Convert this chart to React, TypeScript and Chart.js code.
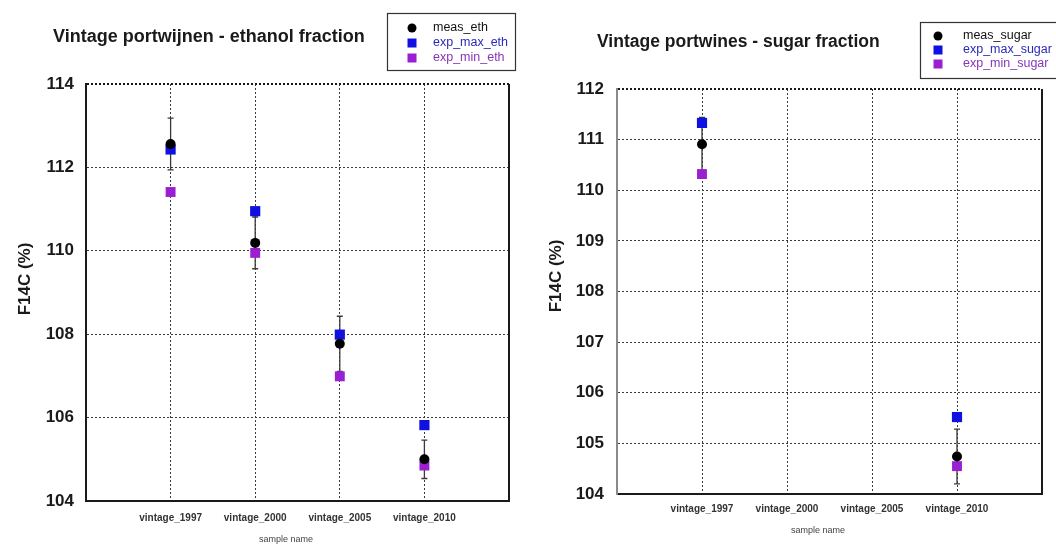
import React, { useEffect, useRef } from "react";
import { Chart, registerables } from "chart.js";

Chart.register(...registerables);

const FONT = "'Liberation Sans', Arial, Helvetica, sans-serif";

// ---------- data ----------
const categories = ["vintage_1997", "vintage_2000", "vintage_2005", "vintage_2010"];
const yAxisTitle = "F14C (%)";
const xAxisTitle = "sample name";

const ethTitle = "Vintage portwijnen - ethanol fraction";
const ethLabels = ["meas_eth", "exp_max_eth", "exp_min_eth"];
const ethMeas = [112.56, 110.19, 107.77, 105.0];
const ethMeasErr = [0.62, 0.62, 0.66, 0.46];
const ethExpMax = [112.43, 110.95, 107.99, 105.82];
const ethExpMin = [111.41, 109.95, 106.99, 104.85];
const ethYTicks = [104, 106, 108, 110, 112, 114];

const sugarTitle = "Vintage portwines - sugar fraction";
const sugarLabels = ["meas_sugar", "exp_max_sugar", "exp_min_sugar"];
const sugarMeas = [110.91, null, null, 104.74];
const sugarMeasErr = [0.53, null, null, 0.54];
const sugarExpMax = [111.33, null, null, 105.52];
const sugarExpMin = [110.32, null, null, 104.55];
const sugarYTicks = [104, 105, 106, 107, 108, 109, 110, 111, 112];

const seriesColors = ["#000000", "#1010e0", "#9b1fd2"];
const legendTextColors = ["#111111", "#2a2ab8", "#8a35b8"];

// ---------- layout (positions / sizes only) ----------
type Layout = {
  width: number;
  height: number;
  area: { left: number; right: number; top: number; bottom: number };
  title: { x: number; y: number; size: number };
  legend: { x: number; y: number; w: number; h: number; rows: number[]; markerX: number; textX: number };
  yTitle: { x: number; y: number };
  xTitle: { x: number; y: number };
  xTickPad: number;
  yTickPad: number;
  yBorderColor: string;
};

const leftLayout: Layout = {
  width: 528,
  height: 544,
  area: { left: 86, right: 509, top: 84, bottom: 501 },
  title: { x: 53, y: 37, size: 18 },
  legend: { x: 387, y: 13, w: 128, h: 57, rows: [28, 43, 58], markerX: 412, textX: 433 },
  yTitle: { x: 25, y: 279 },
  xTitle: { x: 286, y: 540 },
  xTickPad: 11,
  yTickPad: 12,
  yBorderColor: "#1a1a1a",
};

const rightLayout: Layout = {
  width: 528,
  height: 544,
  area: { left: 89, right: 514, top: 89, bottom: 494 },
  title: { x: 69, y: 42, size: 17.5 },
  legend: { x: 392, y: 22, w: 160, h: 56, rows: [36, 50, 64], markerX: 410, textX: 435 },
  yTitle: { x: 28, y: 276 },
  xTitle: { x: 290, y: 531 },
  xTickPad: 9,
  yTickPad: 13,
  yBorderColor: "#8a8a8a",
};

type Spec = {
  title: string;
  labels: string[];
  meas: (number | null)[];
  measErr: (number | null)[];
  expMax: (number | null)[];
  expMin: (number | null)[];
  yTicks: number[];
  layout: Layout;
};

const errorBarPlugin = {
  id: "errorBars",
  beforeDatasetsDraw(chart: any, _args: any, opts: any) {
    const { ctx, scales } = chart;
    const x = scales.x;
    const y = scales.y;
    const vals: (number | null)[] = opts.values || [];
    const errs: (number | null)[] = opts.errors || [];
    ctx.save();
    ctx.strokeStyle = "#3a3a3a";
    ctx.lineWidth = 1.3;
    ctx.setLineDash([]);
    vals.forEach((v, i) => {
      const e = errs[i];
      if (v == null || e == null) return;
      const px = x.getPixelForValue(i + 1);
      const top = y.getPixelForValue(v + e);
      const bot = y.getPixelForValue(v - e);
      ctx.beginPath();
      ctx.moveTo(px, top);
      ctx.lineTo(px, bot);
      ctx.moveTo(px - 3, top);
      ctx.lineTo(px + 3, top);
      ctx.moveTo(px - 3, bot);
      ctx.lineTo(px + 3, bot);
      ctx.stroke();
    });
    ctx.restore();
  },
};

const decorPlugin = {
  id: "decor",
  afterDraw(chart: any, _args: any, opts: any) {
    const { ctx, chartArea } = chart;
    const L: Layout = opts.layout;
    ctx.save();
    ctx.setLineDash([]);
    // right frame line
    ctx.strokeStyle = "#1a1a1a";
    ctx.lineWidth = 2;
    ctx.beginPath();
    ctx.moveTo(chartArea.right, chartArea.top);
    ctx.lineTo(chartArea.right, chartArea.bottom);
    ctx.stroke();

    // title
    ctx.fillStyle = "#1a1a1a";
    ctx.font = `bold ${L.title.size}px ${FONT}`;
    ctx.textAlign = "left";
    ctx.textBaseline = "middle";
    ctx.fillText(opts.title, L.title.x, L.title.y);

    // legend box
    const lg = L.legend;
    ctx.fillStyle = "#ffffff";
    ctx.fillRect(lg.x, lg.y, lg.w, lg.h);
    ctx.strokeStyle = "#333333";
    ctx.lineWidth = 1.2;
    ctx.strokeRect(lg.x + 0.5, lg.y + 0.5, lg.w, lg.h);
    const dsets = chart.data.datasets;
    dsets.forEach((ds: any, i: number) => {
      const ry = lg.rows[i];
      ctx.fillStyle = ds.backgroundColor;
      if (ds.pointStyle === "circle") {
        ctx.beginPath();
        ctx.arc(lg.markerX, ry, 4.5, 0, Math.PI * 2);
        ctx.fill();
      } else {
        ctx.fillRect(lg.markerX - 4.5, ry - 4.5, 9, 9);
      }
      ctx.fillStyle = legendTextColors[i];
      ctx.font = `12.5px ${FONT}`;
      ctx.textAlign = "left";
      ctx.textBaseline = "middle";
      ctx.fillText(ds.label, lg.textX, ry);
    });

    // y axis title
    ctx.save();
    ctx.translate(L.yTitle.x, L.yTitle.y);
    ctx.rotate(-Math.PI / 2);
    ctx.fillStyle = "#1a1a1a";
    ctx.font = `bold 17px ${FONT}`;
    ctx.textAlign = "center";
    ctx.textBaseline = "middle";
    ctx.fillText(yAxisTitle, 0, 0);
    ctx.restore();

    // x axis title
    ctx.fillStyle = "#444444";
    ctx.font = `9px ${FONT}`;
    ctx.textAlign = "center";
    ctx.textBaseline = "middle";
    ctx.fillText(xAxisTitle, L.xTitle.x, L.xTitle.y);
    ctx.restore();
  },
};

function toPoints(vals: (number | null)[]) {
  return categories.map((_, i) => ({ x: i + 1, y: vals[i] }));
}

function makeConfig(spec: Spec): any {
  const L = spec.layout;
  const yMin = spec.yTicks[0];
  const yMax = spec.yTicks[spec.yTicks.length - 1];
  return {
    type: "scatter",
    data: {
      datasets: [
        {
          label: spec.labels[0],
          data: toPoints(spec.meas),
          pointStyle: "circle",
          pointRadius: 5,
          backgroundColor: seriesColors[0],
          borderColor: seriesColors[0],
          borderWidth: 0,
        },
        {
          label: spec.labels[1],
          data: toPoints(spec.expMax),
          pointStyle: "rect",
          pointRadius: 7.2,
          backgroundColor: seriesColors[1],
          borderColor: seriesColors[1],
          borderWidth: 0,
        },
        {
          label: spec.labels[2],
          data: toPoints(spec.expMin),
          pointStyle: "rect",
          pointRadius: 7,
          backgroundColor: seriesColors[2],
          borderColor: seriesColors[2],
          borderWidth: 0,
        },
      ],
    },
    options: {
      responsive: false,
      animation: false,
      devicePixelRatio: 1,
      layout: {
        padding: { left: 0, top: L.area.top, right: L.width - L.area.right, bottom: 0 },
      },
      plugins: {
        legend: { display: false },
        title: { display: false },
        tooltip: { enabled: false },
        errorBars: { values: spec.meas, errors: spec.measErr },
        decor: { layout: L, title: spec.title },
      },
      scales: {
        x: {
          type: "linear",
          min: 0,
          max: categories.length + 1,
          afterBuildTicks: (s: any) => {
            s.ticks = categories.map((_, i) => ({ value: i + 1 }));
          },
          afterFit: (s: any) => {
            s.height = L.height - L.area.bottom;
          },
          ticks: {
            callback: (v: number) => categories[v - 1] ?? "",
            font: { family: FONT, size: 10, weight: "bold" },
            color: "#333333",
            padding: L.xTickPad,
            maxRotation: 0,
            autoSkip: false,
          },
          grid: {
            drawTicks: false,
            color: "#3a3a3a",
            lineWidth: 1,
          },
          border: { display: true, color: "#1a1a1a", width: 2, dash: [2, 2] },
        },
        y: {
          type: "linear",
          min: yMin,
          max: yMax,
          afterBuildTicks: (s: any) => {
            s.ticks = spec.yTicks.map((v) => ({ value: v }));
          },
          afterFit: (s: any) => {
            s.width = L.area.left;
          },
          ticks: {
            font: { family: FONT, size: 17, weight: "bold" },
            color: "#1a1a1a",
            padding: L.yTickPad,
          },
          grid: {
            drawTicks: false,
            color: (c: any) => (c.tick && c.tick.value === yMax ? "#1a1a1a" : "#3a3a3a"),
            lineWidth: (c: any) => (c.tick && c.tick.value === yMax ? 2 : 1),
          },
          border: { display: true, color: L.yBorderColor, width: 2, dash: [2, 2] },
        },
      },
    },
    plugins: [errorBarPlugin, decorPlugin],
  };
}

function ChartPanel({ spec, left }: { spec: Spec; left: number }) {
  const ref = useRef<HTMLCanvasElement | null>(null);
  useEffect(() => {
    if (!ref.current) return;
    const chart = new Chart(ref.current, makeConfig(spec));
    return () => chart.destroy();
  }, [spec]);
  return (
    <canvas
      ref={ref}
      width={spec.layout.width}
      height={spec.layout.height}
      style={{ position: "absolute", left, top: 0, width: spec.layout.width, height: spec.layout.height }}
    />
  );
}

const ethSpec: Spec = {
  title: ethTitle,
  labels: ethLabels,
  meas: ethMeas,
  measErr: ethMeasErr,
  expMax: ethExpMax,
  expMin: ethExpMin,
  yTicks: ethYTicks,
  layout: leftLayout,
};

const sugarSpec: Spec = {
  title: sugarTitle,
  labels: sugarLabels,
  meas: sugarMeas,
  measErr: sugarMeasErr,
  expMax: sugarExpMax,
  expMin: sugarExpMin,
  yTicks: sugarYTicks,
  layout: rightLayout,
};

export default function App() {
  return (
    <div
      style={{
        position: "fixed",
        left: 0,
        top: 0,
        width: 1056,
        height: 544,
        background: "#ffffff",
        overflow: "hidden",
      }}
    >
      <ChartPanel spec={ethSpec} left={0} />
      <ChartPanel spec={sugarSpec} left={528} />
    </div>
  );
}
